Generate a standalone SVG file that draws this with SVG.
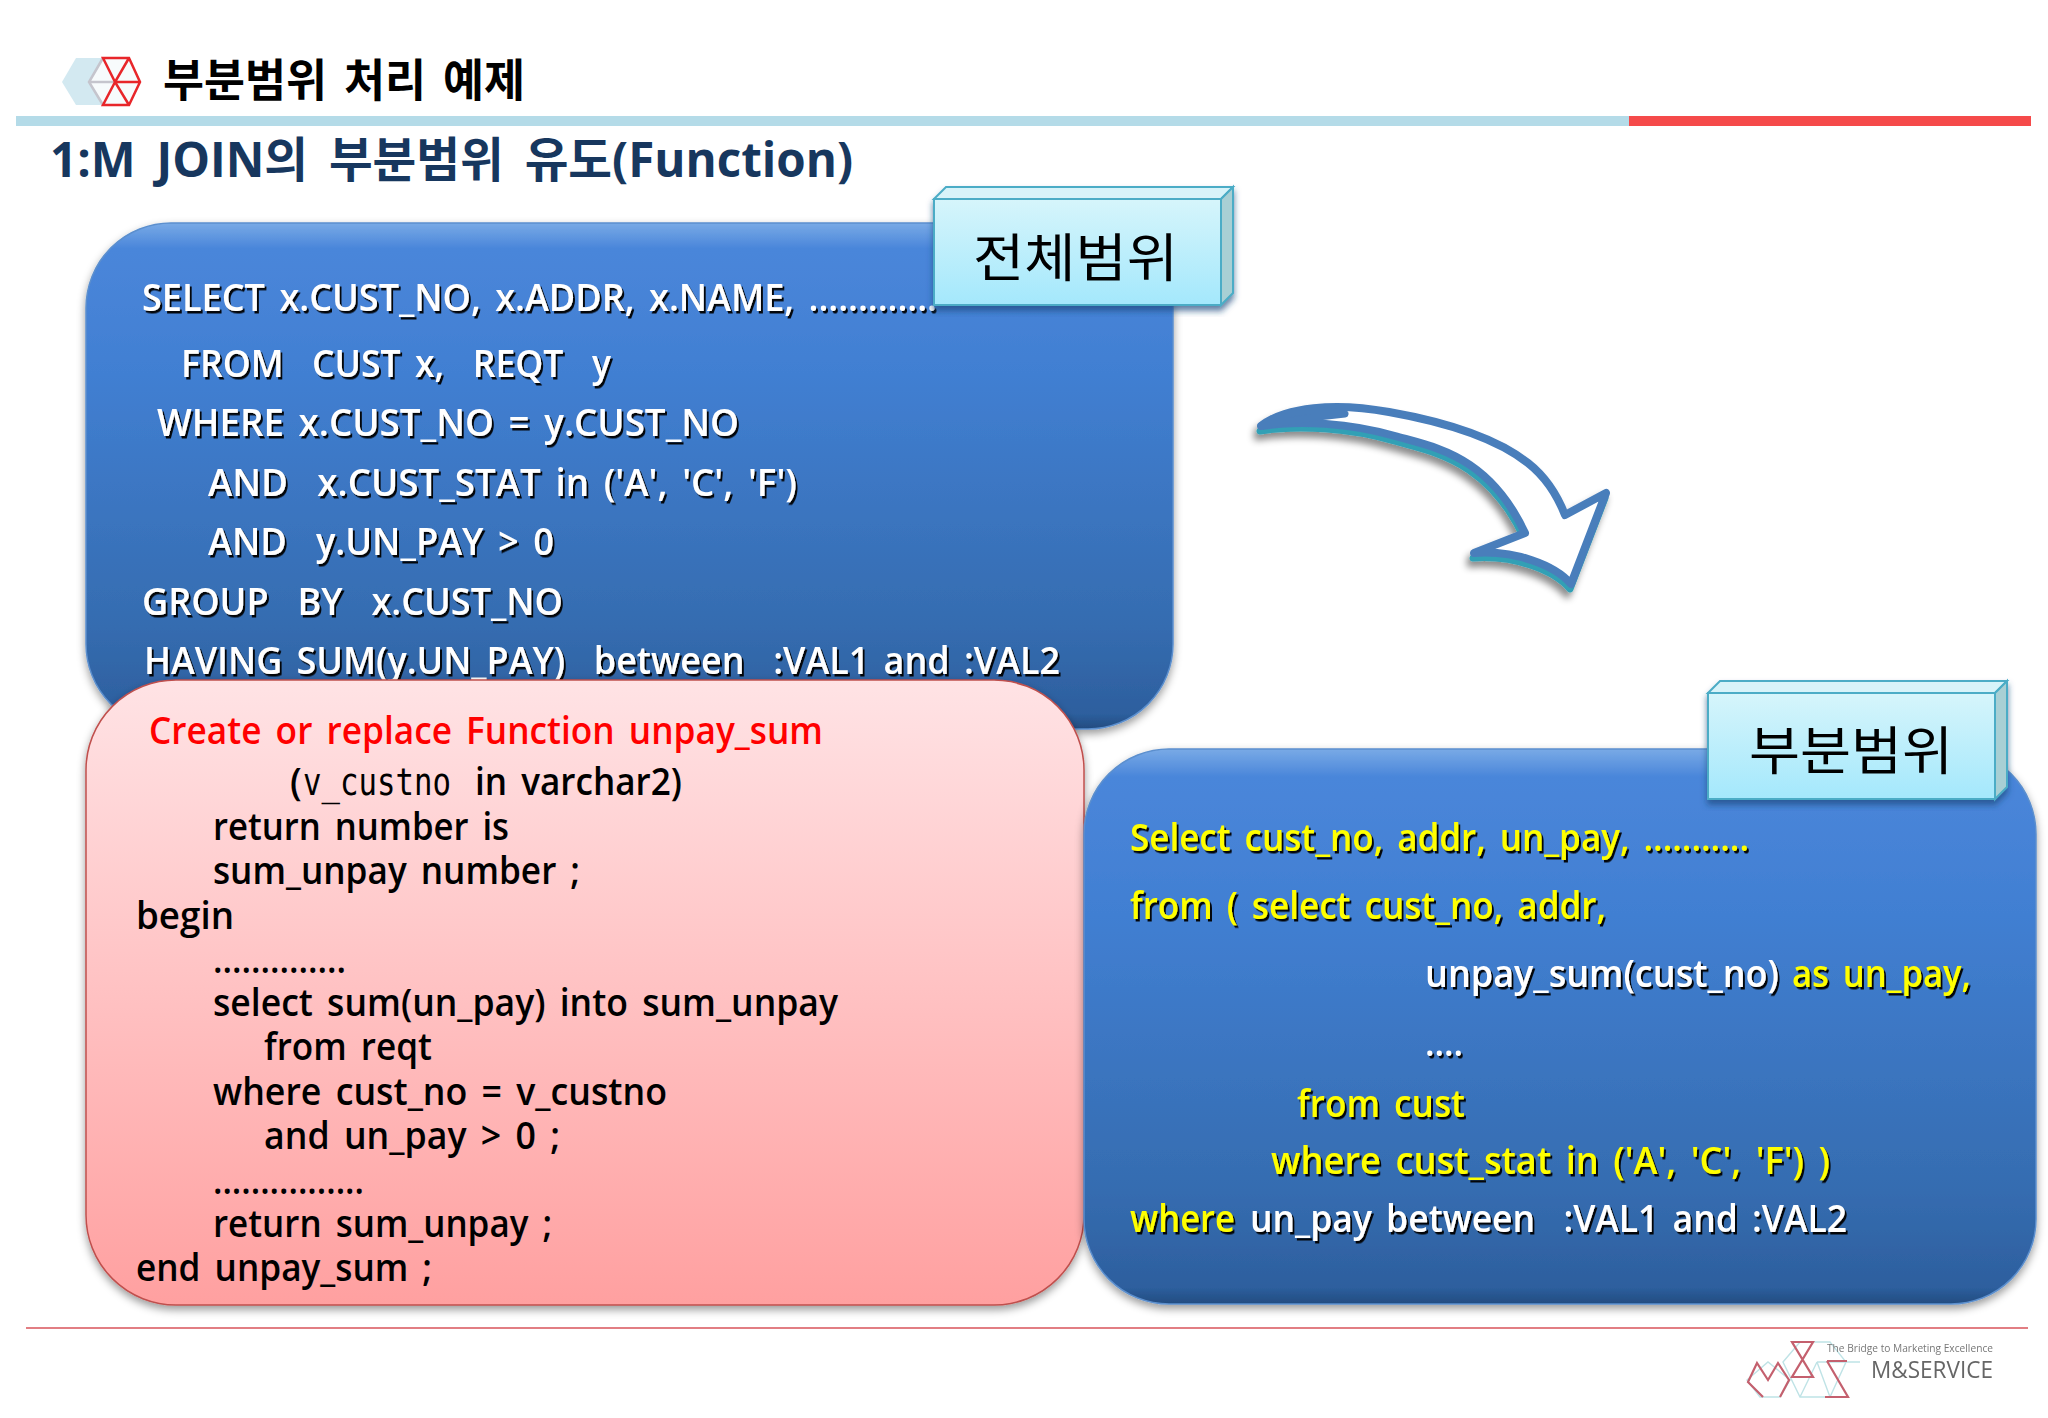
<svg xmlns="http://www.w3.org/2000/svg" width="2048" height="1418" viewBox="0 0 2048 1418">
<style>
text{font-family:"Open Sans","Noto Sans CJK KR",sans-serif;font-weight:600;white-space:pre}
.c{font-size:37px;word-spacing:.14em}
.w{fill:#fff;filter:url(#ts)}
.y{fill:#ff0;filter:url(#ts)}
.k{fill:#000}
.tag{font-family:"Noto Sans CJK KR",sans-serif;font-size:52px;font-weight:400;fill:#000}
.face{fill:url(#tagG);stroke:#4bacc6;stroke-width:2}
.top{fill:#d7f3f9;stroke:#4bacc6;stroke-width:2}
.side{fill:#a8cfd4;stroke:#4bacc6;stroke-width:2}
.blue{fill:url(#blueG);stroke:#5b8fce;stroke-width:1.5;filter:url(#sh)}
.lr{fill:none;stroke:#c4606e;stroke-width:2.2}
.lp{fill:none;stroke:#bfe3e6;stroke-width:1.4}
</style>
<defs>
<linearGradient id="blueG" x1="0" y1="0" x2="0" y2="1">
<stop offset="0" stop-color="#79aae6"/><stop offset=".05" stop-color="#4a86da"/><stop offset=".3" stop-color="#417fd2"/><stop offset=".8" stop-color="#356cb0"/><stop offset=".97" stop-color="#2d5f9e"/><stop offset="1" stop-color="#234c80"/>
</linearGradient>
<linearGradient id="pinkG" x1="0" y1="0" x2="0" y2="1">
<stop offset="0" stop-color="#ffe3e5"/><stop offset="1" stop-color="#ffa0a0"/>
</linearGradient>
<linearGradient id="tagG" x1="0" y1="0" x2="0" y2="1">
<stop offset="0" stop-color="#d6f5fb"/><stop offset="1" stop-color="#a4e8fc"/>
</linearGradient>
<filter id="sh" x="-5%" y="-5%" width="110%" height="110%"><feDropShadow dx="0" dy="4" stdDeviation="4" flood-color="#000" flood-opacity=".4"/></filter>
<filter id="sh2" x="-10%" y="-10%" width="120%" height="120%"><feDropShadow dx="0" dy="5" stdDeviation="3" flood-color="#1f497d" flood-opacity=".7"/></filter>
<filter id="ts" x="-5%" y="-20%" width="110%" height="140%"><feDropShadow dx="2" dy="2.5" stdDeviation=".7" flood-color="#000" flood-opacity=".95"/></filter>
<filter id="ar" x="-10%" y="-15%" width="120%" height="130%"><feDropShadow dx="-3" dy="6" stdDeviation="3.5" flood-color="#000" flood-opacity=".45"/></filter>
<filter id="bl" x="-5%" y="-5%" width="110%" height="110%"><feGaussianBlur stdDeviation=".6"/></filter>
</defs>
<rect width="2048" height="1418" fill="#fff"/>

<g id="header-logo">
<polygon points="62,82 76,58 128,58 140,82 128,105 76,105" fill="#d3e9f1"/>
<polygon points="89,82 103,58 128,58 140,82 128,105 103,105" fill="#f7fbfc"/>
<path d="M103 58L89 82L103 105M89 82H115" fill="none" stroke="#c5c5cd" stroke-width="2.5"/>
<path d="M103 58H129L140 82L129 105H103L115 82ZM115 82H140M129 58L115 82L129 105" fill="none" stroke="#e8262a" stroke-width="2.5"/>
</g>
<g id="title">
<text x="163" y="97" font-size="45" style="font-weight:700;word-spacing:.12em" textLength="362" lengthAdjust="spacingAndGlyphs" fill="#000">부분범위 처리 예제</text>
<rect x="16" y="116" width="1613" height="10" fill="#b4dbe8"/>
<rect x="1629" y="116" width="402" height="10" fill="#f54a4a"/>
<text x="50" y="177" font-size="48" style="font-weight:700;word-spacing:.18em" textLength="803" lengthAdjust="spacingAndGlyphs" fill="#17375e">1:M JOIN의 부분범위 유도(Function)</text>
</g>

<g id="full-range">
<rect class="blue" x="86" y="223" width="1087" height="506" rx="85"/>
<text class="c w" x="142" y="311" textLength="795" lengthAdjust="spacingAndGlyphs">SELECT x.CUST_NO, x.ADDR, x.NAME, .............</text>
<text class="c w" x="181" y="377" textLength="430" lengthAdjust="spacingAndGlyphs">FROM  CUST x,  REQT  y</text>
<text class="c w" x="157" y="436" textLength="582" lengthAdjust="spacingAndGlyphs">WHERE x.CUST_NO = y.CUST_NO</text>
<text class="c w" x="208" y="496" textLength="589" lengthAdjust="spacingAndGlyphs">AND  x.CUST_STAT in ('A', 'C', 'F')</text>
<text class="c w" x="208" y="555" textLength="346" lengthAdjust="spacingAndGlyphs">AND  y.UN_PAY &gt; 0</text>
<text class="c w" x="142" y="615" textLength="421" lengthAdjust="spacingAndGlyphs">GROUP  BY  x.CUST_NO</text>
<text class="c w" x="144" y="674" textLength="916" lengthAdjust="spacingAndGlyphs">HAVING SUM(y.UN_PAY)  between  :VAL1 and :VAL2</text>
</g>
<g id="tag-full">
<g filter="url(#sh2)">
<polygon class="top" points="934,199 946,187 1233,187 1221,199"/>
<polygon class="side" points="1221,199 1233,187 1233,293 1221,305"/>
<rect class="face" x="934" y="199" width="287" height="106"/>
</g>
<text class="tag" x="973" y="277" textLength="205" lengthAdjust="spacingAndGlyphs">전체범위</text>
</g>

<g id="function">
<rect x="86" y="680" width="998" height="625" rx="90" fill="url(#pinkG)" stroke="#c0504d" stroke-width="1.5" filter="url(#sh)"/>
<text class="c" fill="#f00" x="149" y="744" textLength="674" lengthAdjust="spacingAndGlyphs">Create or replace Function unpay_sum</text>
<text class="c k" x="290" y="795">(</text>
<text class="k" x="303" y="795" style="font-family:'DejaVu Sans Mono',monospace;font-weight:400;font-size:37px" textLength="148" lengthAdjust="spacingAndGlyphs">v_custno</text>
<text class="c k" x="475" y="795" textLength="207" lengthAdjust="spacingAndGlyphs">in varchar2)</text>
<text class="c k" x="213" y="840" textLength="296" lengthAdjust="spacingAndGlyphs">return number is</text>
<text class="c k" x="213" y="884" textLength="367" lengthAdjust="spacingAndGlyphs">sum_unpay number ;</text>
<text class="c k" x="136" y="929" textLength="98" lengthAdjust="spacingAndGlyphs">begin</text>
<text class="c k" x="213" y="973" textLength="133" lengthAdjust="spacingAndGlyphs">..............</text>
<text class="c k" x="213" y="1016" textLength="625" lengthAdjust="spacingAndGlyphs">select sum(un_pay) into sum_unpay</text>
<text class="c k" x="264" y="1060" textLength="168" lengthAdjust="spacingAndGlyphs">from reqt</text>
<text class="c k" x="213" y="1105" textLength="454" lengthAdjust="spacingAndGlyphs">where cust_no = v_custno</text>
<text class="c k" x="264" y="1149" textLength="296" lengthAdjust="spacingAndGlyphs">and un_pay &gt; 0 ;</text>
<text class="c k" x="213" y="1194" textLength="151" lengthAdjust="spacingAndGlyphs">................</text>
<text class="c k" x="213" y="1237" textLength="339" lengthAdjust="spacingAndGlyphs">return sum_unpay ;</text>
<text class="c k" x="136" y="1281" textLength="296" lengthAdjust="spacingAndGlyphs">end unpay_sum ;</text>
</g>

<g id="partial-range">
<rect class="blue" x="1084" y="749" width="952" height="555" rx="85"/>
<text class="c y" x="1130" y="851" textLength="619" lengthAdjust="spacingAndGlyphs">Select cust_no, addr, un_pay, ...........</text>
<text class="c y" x="1130" y="919" textLength="476" lengthAdjust="spacingAndGlyphs">from ( select cust_no, addr,</text>
<text class="c w" x="1425" y="987" textLength="354" lengthAdjust="spacingAndGlyphs">unpay_sum(cust_no)</text>
<text class="c y" x="1792" y="987" textLength="179" lengthAdjust="spacingAndGlyphs">as un_pay,</text>
<text class="c w" x="1425" y="1056" textLength="38" lengthAdjust="spacingAndGlyphs">....</text>
<text class="c y" x="1297" y="1117" textLength="168" lengthAdjust="spacingAndGlyphs">from cust</text>
<text class="c y" x="1271" y="1174" textLength="559" lengthAdjust="spacingAndGlyphs">where cust_stat in ('A', 'C', 'F') )</text>
<text class="c y" x="1130" y="1232" textLength="105" lengthAdjust="spacingAndGlyphs">where</text>
<text class="c w" x="1250" y="1232" textLength="597" lengthAdjust="spacingAndGlyphs">un_pay between  :VAL1 and :VAL2</text>
</g>
<g id="tag-partial">
<g filter="url(#sh2)">
<polygon class="top" points="1708,693 1720,681 2007,681 1995,693"/>
<polygon class="side" points="1995,693 2007,681 2007,787 1995,799"/>
<rect class="face" x="1708" y="693" width="287" height="106"/>
</g>
<text class="tag" x="1749" y="770" textLength="204" lengthAdjust="spacingAndGlyphs">부분범위</text>
</g>

<g id="connectors">
<g filter="url(#ar)">
<path d="M1261 426C1285 407 1335 402 1389 412C1440 421 1495 437 1528 463C1547 478 1558 497 1565 515L1606 493L1571 584C1555 565 1515 550 1474 553L1525 533C1512 505 1495 482 1470 465C1445 448 1420 443 1395 436C1350 423 1300 420 1261 426Z" transform="translate(-1 5)" fill="#31a0b5" stroke="#31a0b5" stroke-width="7" stroke-linejoin="round"/>
<path d="M1261 426C1285 407 1335 402 1389 412C1440 421 1495 437 1528 463C1547 478 1558 497 1565 515L1606 493L1571 584C1555 565 1515 550 1474 553L1525 533C1512 505 1495 482 1470 465C1445 448 1420 443 1395 436C1350 423 1300 420 1261 426Z" fill="#fff" stroke="#4a7ebb" stroke-width="8" stroke-linejoin="round"/>
<path d="M1261 426C1285 410 1315 408 1345 414C1325 416 1295 420 1261 426Z" fill="#4a7ebb" stroke="#4a7ebb" stroke-width="7" stroke-linejoin="round"/>
</g>
</g>

<g id="footer">
<line x1="26" y1="1328" x2="2028" y2="1328" stroke="#d9535a" stroke-width="1.6"/>
<g id="footer-logo" filter="url(#bl)">
<path class="lp" d="M1783 1362L1800 1342H1830L1846 1362L1830 1397H1800ZM1817 1362H1860M1817 1362L1830 1397M1817 1362L1800 1397M1747 1380L1768 1362L1790 1380L1780 1397H1760Z"/>
<path class="lr" d="M1763 1397L1748 1382L1757 1363L1768 1380L1778 1363L1789 1380L1780 1397M1792 1342H1813L1792 1377H1813ZM1827 1361H1847M1827 1361L1848 1397H1825"/>
<text x="1827" y="1352" font-size="10.5" style="font-weight:400" fill="#777" textLength="166" lengthAdjust="spacingAndGlyphs">The Bridge to Marketing Excellence</text>
<text x="1871" y="1378" font-size="24" style="font-weight:400" fill="#666" textLength="122" lengthAdjust="spacingAndGlyphs">M&amp;SERVICE</text>
</g>
</g>
</svg>
